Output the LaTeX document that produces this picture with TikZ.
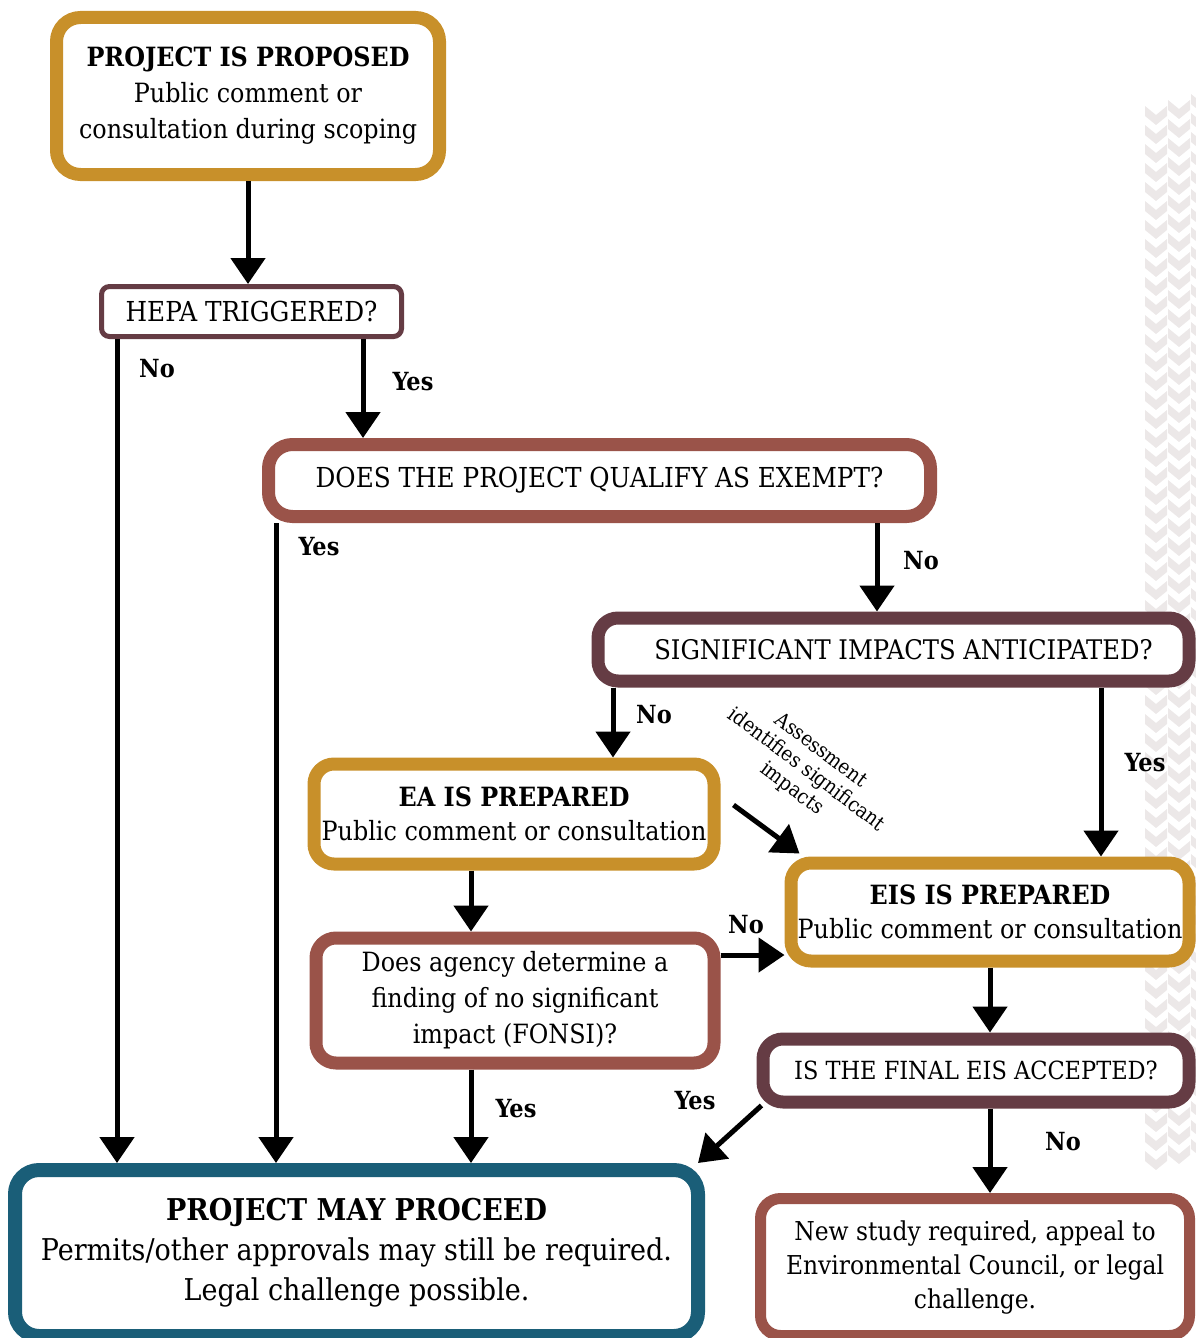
\documentclass[tikz,border=0pt]{standalone}
\usepackage{fontspec}
\setmainfont{DejaVu Serif Condensed}
\usepackage{tikz}
\usetikzlibrary{arrows.meta,calc}

\definecolor{gold}{HTML}{C8902A}
\definecolor{plum}{HTML}{653C44}
\definecolor{brick}{HTML}{9A5349}
\definecolor{deepteal}{HTML}{1A5E78}
\definecolor{heartgray}{HTML}{ECE8E8}

\tikzset{
  box/.style={draw, fill=white, align=center, inner sep=0pt, font=\fontsize{26.5}{36}\selectfont},
  thickbox/.style={box, line width=13pt, rounded corners=24pt},
  thinbox/.style={box, line width=5pt, rounded corners=8pt},
  capsbox/.style={font=\fontsize{27.5}{36}\selectfont},
  arr/.style={line width=5pt, -{Triangle[width=34pt,length=26pt]}},
  lab/.style={font=\fontsize{25}{30}\selectfont\bfseries}
}

\begin{document}
\begin{tikzpicture}[x=1pt,y=-1pt]
\useasboundingbox (0,0) rectangle (1195,1338);

% background hearts
\foreach \r in {0,...,55}{
\fill[heartgray] (1145,106+19*\r) -- ++(11,9) -- ++(11,-9) -- ++(0,10) -- ++(-11,9) -- ++(-11,-9) -- cycle;
\fill[heartgray] (1168,100+19*\r) -- ++(11,9) -- ++(11,-9) -- ++(0,10) -- ++(-11,9) -- ++(-11,-9) -- cycle;
\fill[heartgray] (1191,94+19*\r) -- ++(11,9) -- ++(11,-9) -- ++(0,10) -- ++(-11,9) -- ++(-11,-9) -- cycle;
}

% boxes
\node[thickbox, draw=gold, minimum width=383pt, minimum height=157pt] (propose) at (248,96)
  {\textbf{PROJECT IS PROPOSED}\\Public comment or\\consultation during scoping};
\node[thinbox, capsbox, draw=plum, minimum width=300pt, minimum height=50pt] (hepa) at (251.5,311.5)
  {HEPA TRIGGERED?};
\node[thickbox, capsbox, draw=brick, minimum width=662pt, minimum height=72pt] (exempt) at (599.5,480.5)
  {DOES THE PROJECT QUALIFY AS EXEMPT?};
\node[thickbox, draw=plum, minimum width=591pt, minimum height=63pt, rounded corners=20pt,
  font=\fontsize{27}{36}\selectfont] (signif) at (893.5,649.5)
  {\hspace*{20pt}SIGNIFICANT IMPACTS ANTICIPATED?};
\node[thickbox, draw=gold, minimum width=400pt, minimum height=100pt, rounded corners=20pt] (ea) at (514,814)
  {\textbf{EA IS PREPARED}\\[-2pt]Public comment or consultation};
\node[thickbox, draw=gold, minimum width=398pt, minimum height=98pt, rounded corners=20pt] (eis) at (990,912)
  {\textbf{EIS IS PREPARED}\\[-2pt]Public comment or consultation};
\node[thickbox, draw=brick, minimum width=398pt, minimum height=125pt, rounded corners=20pt] (fonsi) at (515,1000.5)
  {Does agency determine a\\finding of no significant\\impact (FONSI)?};
\node[thickbox, draw=plum, minimum width=426pt, minimum height=63pt, rounded corners=20pt,
  font=\fontsize{25}{36}\selectfont] (final) at (976,1070.5)
  {IS THE FINAL EIS ACCEPTED?};
\node[thickbox, draw=deepteal, line width=14pt, minimum width=683pt, minimum height=166pt,
  font=\fontsize{30}{40}\selectfont] (proceed) at (356.5,1253)
  {\textbf{PROJECT MAY PROCEED}\\Permits/other approvals may still be required.\\Legal challenge possible.};
\node[thickbox, draw=brick, line width=11pt, minimum width=429pt, minimum height=137pt, rounded corners=20pt,
  font=\fontsize{26}{34}\selectfont] (newstudy) at (975,1267)
  {New study required, appeal to\\Environmental Council, or legal\\challenge.};

% columns for the vertical connectors
\coordinate (xno) at (117,0);
\coordinate (xyes) at (363,0);
\coordinate (xexempt) at (276,0);
\coordinate (xsig) at (877,0);
\coordinate (xea) at (613,0);
\coordinate (xeis) at (1101,0);
\coordinate (xfonsi) at (471,0);
\coordinate (xfinal) at (990,0);
\coordinate (yno) at (0,955);

% connectors
\draw[arr] (propose.south) -- (hepa.north -| propose.south);
\draw[arr] (hepa.south -| xno) -- (proceed.north -| xno);
\draw[arr] (hepa.south -| xyes) -- (exempt.north -| xyes);
\draw[arr] (exempt.south -| xexempt) -- (proceed.north -| xexempt);
\draw[arr] (exempt.south -| xsig) -- (signif.north -| xsig);
\draw[arr] (signif.south -| xea) -- (ea.north -| xea);
\draw[arr] (signif.south -| xeis) -- (eis.north -| xeis);
\draw[arr] ($(ea.east)+(13,-9)$) -- ($(eis.north west)+(15,-3)$);
\draw[arr] (ea.south -| xfonsi) -- (fonsi.north -| xfonsi);
\draw[arr] (fonsi.east |- yno) -- (eis.west |- yno);
\draw[arr] (fonsi.south -| xfonsi) -- (proceed.north -| xfonsi);
\draw[arr] (eis.south -| xfinal) -- (final.north -| xfinal);
\draw[arr] ($(final.south west)+(5,-3)$) -- ($(proceed.north east)+(-7,0)$);
\draw[arr] (final.south -| xfinal) -- (newstudy.north -| xfinal);

% labels
\node[lab] (lno1) at (157,369) {No};
\node[lab] (lyes1) at (413,382) {Yes};
\node[lab] (lyes2) at (319,547) {Yes};
\node[lab] (lno2) at (921,561) {No};
\node[lab] (lno3) at (654,715) {No};
\node[lab] (lyes3) at (1145,763) {Yes};
\node[lab] (lno4) at (746,925) {No};
\node[lab] (lyes4) at (695,1101) {Yes};
\node[lab] (lyes5) at (516,1109) {Yes};
\node[lab] (lno5) at (1063,1142) {No};
\node[align=center, rotate=-37, font=\fontsize{20.5}{24}\selectfont] (assess) at (806,770)
  {Assessment\\identifies significant\\impacts};

\end{tikzpicture}
\end{document}
